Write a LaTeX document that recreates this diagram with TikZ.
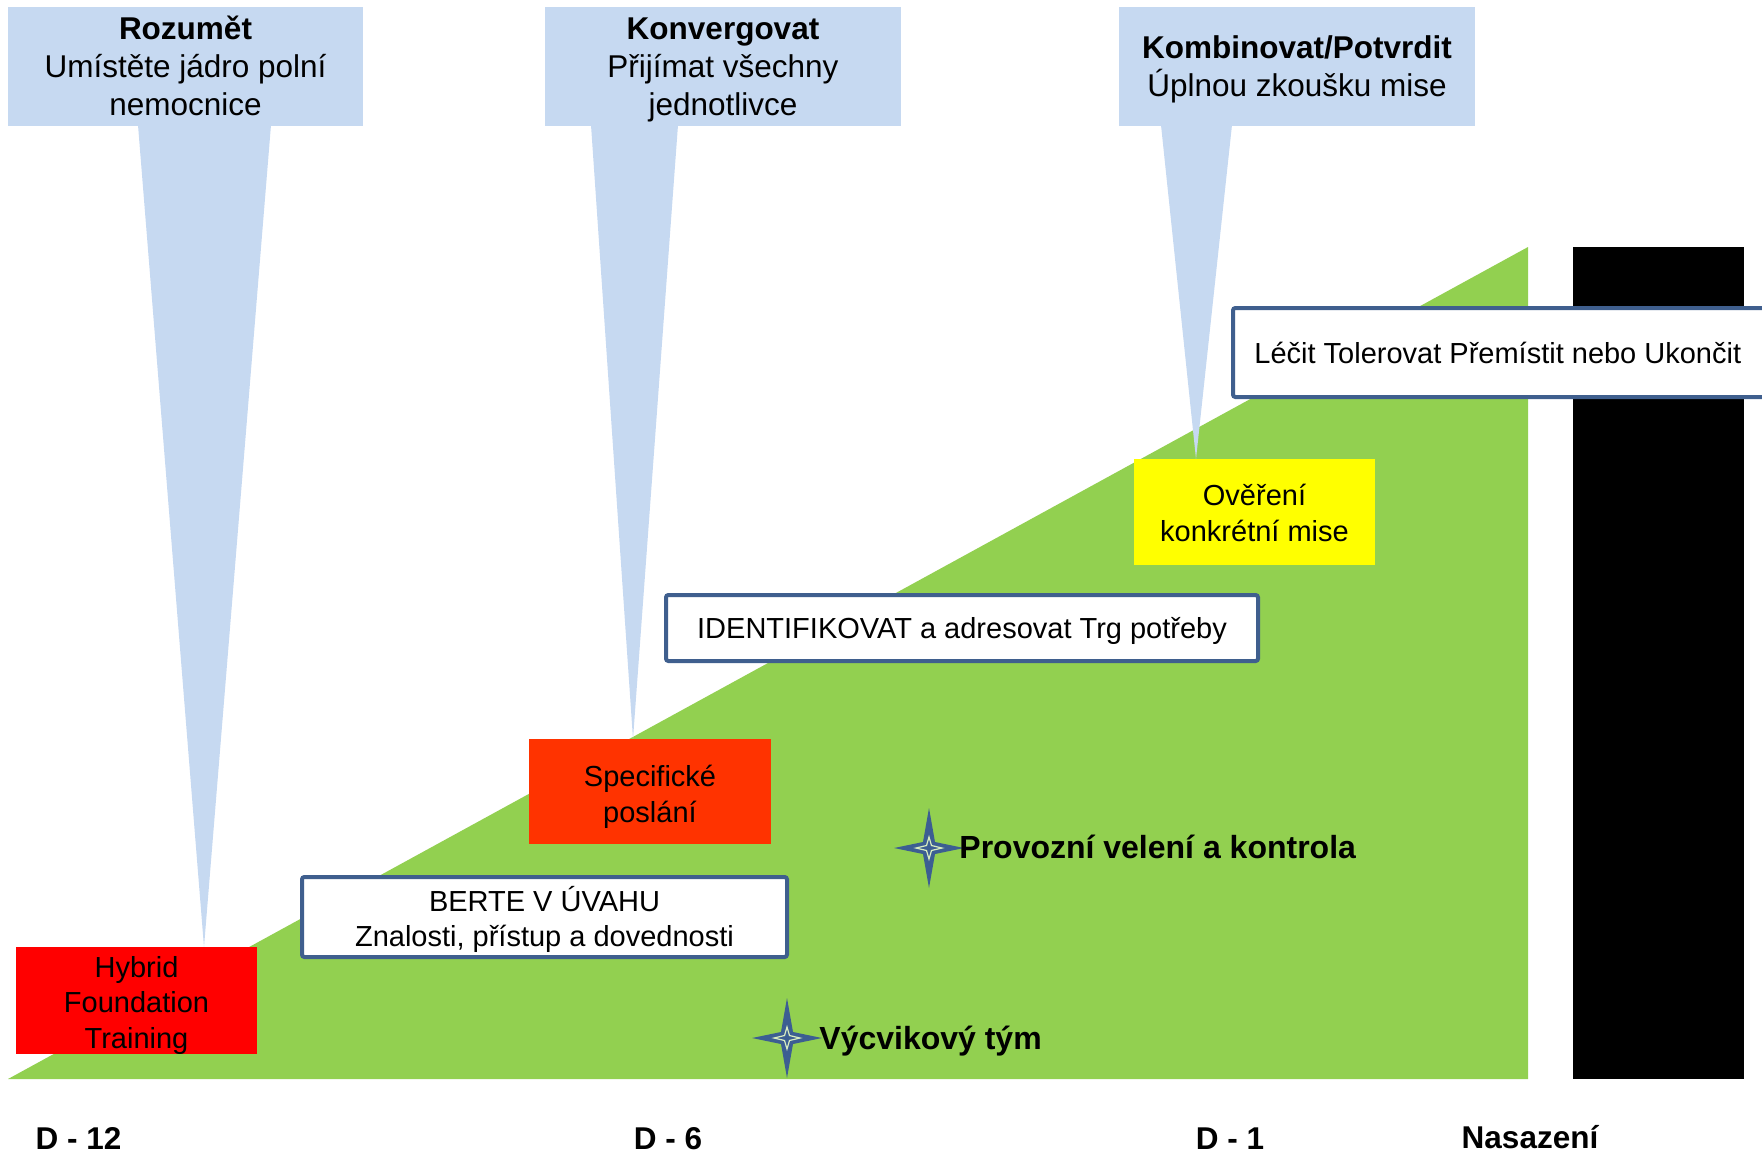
\documentclass[tikz,border=0pt]{standalone}
\usepackage{fontspec}
\setmainfont{Liberation Sans}
\definecolor{callblue}{HTML}{C6D9F1}
\definecolor{trigreen}{HTML}{92D050}
\definecolor{boxred}{HTML}{FF0000}
\definecolor{boxorange}{HTML}{FF3300}
\definecolor{boxyellow}{HTML}{FFFF00}
\definecolor{edgeblue}{HTML}{3F5F8E}
\definecolor{starblue}{HTML}{3C5E92}
\definecolor{starlight}{HTML}{D8ECC0}
\tikzset{
  hdr/.style={align=center, inner sep=0pt, font=\fontsize{15.75}{19}\selectfont},
  body/.style={align=center, inner sep=0pt, font=\fontsize{14.5}{17.75}\selectfont},
  filledbox/.style={draw=none, inner sep=0pt},
  wbox/.style={draw=edgeblue, line width=2pt, fill=white, rounded corners=1.2pt, inner sep=0pt},
  boldlbl/.style={inner sep=0pt, font=\fontsize{16}{19}\selectfont\bfseries},
  axislbl/.style={inner sep=0pt, font=\fontsize{15.75}{19}\selectfont\bfseries},
  fourstar/.pic={
    \fill[starblue] (0,-40) -- (6,-6) -- (35,0) -- (6,6) -- (0,40) -- (-6,6) -- (-35,0) -- (-6,-6) -- cycle;
    \draw[starlight, line width=0.6pt, line join=miter] (0,-11) -- (2.5,-2.5) -- (13,0) -- (2.5,2.5) -- (0,11) -- (-2.5,2.5) -- (-13,0) -- (-2.5,-2.5) -- cycle;
  }
}
\begin{document}
\begin{tikzpicture}[x=0.5pt, y=-0.5pt]
\useasboundingbox (0,0) rectangle (1762,1153);
\begin{scope}
\clip (0,0) rectangle (1762,1153);
% green ramp
\fill[trigreen] (8,1079) -- (1528,247) -- (1528,1079) -- cycle;
% black bar
\fill[black] (1573,247) rectangle (1744,1079);

% callouts
\fill[callblue] (8,7) rectangle (363,126);
\fill[callblue] (138,125) -- (204,947) -- (271,125) -- cycle;
\fill[callblue] (545,7) rectangle (901,126);
\fill[callblue] (591,125) -- (633,739) -- (678,125) -- cycle;
\fill[callblue] (1119,7) rectangle (1475,126);
\fill[callblue] (1161,125) -- (1196,459) -- (1232,125) -- cycle;

\node[hdr] (c1) at (185.5,66) {\textbf{Rozumět}\\Umístěte jádro polní\\nemocnice};
\node[hdr] (c2) at (723,69.5) {\textbf{Konvergovat}\\Přijímat všechny\\jednotlivce};
\node[hdr] (c3) at (1297,69.5) {\textbf{Kombinovat/Potvrdit}\\Úplnou zkoušku mise};

% coloured boxes
\node[filledbox, fill=boxred, minimum width=120.5pt, minimum height=53.5pt] (hyb) at (136.5,1000.5) {};
\node[body] (hybt) at (136.5,1005) {Hybrid\\Foundation\\Training};
\node[filledbox, fill=boxorange, minimum width=121pt, minimum height=52.5pt] (spec) at (650,791.5) {};
\node[body] (spect) at (650,797) {Specifické\\poslání};
\node[filledbox, fill=boxyellow, minimum width=120.5pt, minimum height=53pt] (over) at (1254.5,512) {};
\node[body] (overt) at (1254.5,513) {Ověření\\konkrétní mise};

% white boxes
\node[wbox, minimum width=242.5pt, minimum height=40pt] (berte) at (544.5,917) {};
\node[body] (bertet) at (544.5,919.5) {BERTE V ÚVAHU\\Znalosti, přístup a dovednosti};
\node[wbox, minimum width=296pt, minimum height=33pt] (ident) at (962,628) {};
\node[body] (identt) at (962,631) {IDENTIFIKOVAT a adresovat Trg potřeby};
\node[wbox, minimum width=272pt, minimum height=44.5pt] (lecit) at (1505,352.5) {};
\node[body, anchor=west] (lecitt) at (1254,353) {Léčit Tolerovat Přemístit nebo Ukončit};

% stars and labels
\pic at (929,848) {fourstar};
\node[boldlbl, anchor=west] (prov) at (959,847) {Provozní velení a kontrola};
\pic at (787,1038) {fourstar};
\node[boldlbl, anchor=west] (vyc) at (819,1041) {Výcvikový tým};

% axis labels
\node[axislbl] (d12) at (78.5,1138) {D - 12};
\node[axislbl] (d6) at (668,1139) {D - 6};
\node[axislbl] (d1) at (1230,1139) {D - 1};
\node[axislbl] (nas) at (1530,1137) {Nasazení};
\end{scope}
\end{tikzpicture}
\end{document}
